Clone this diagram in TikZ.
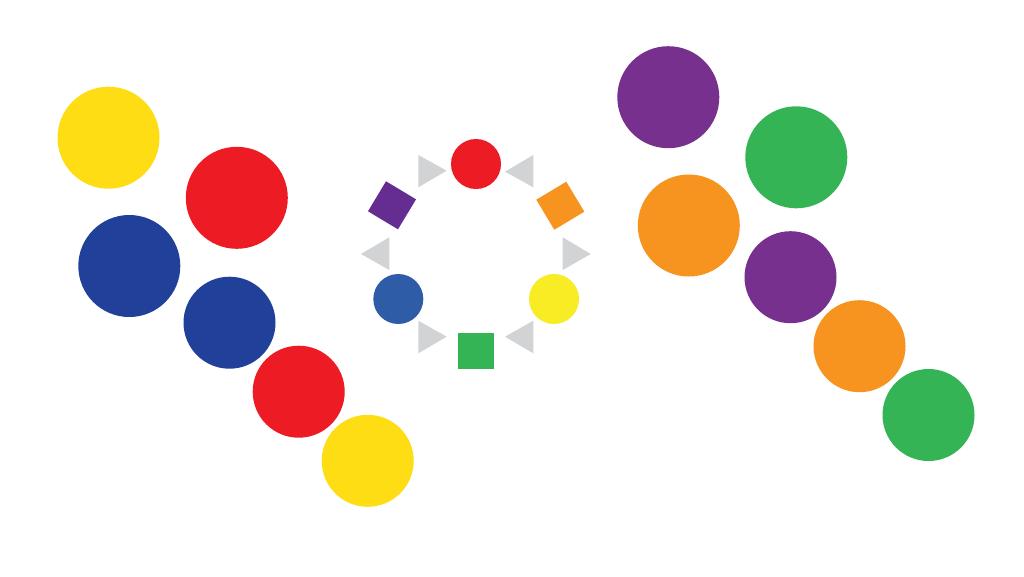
\documentclass[tikz,border=0pt]{standalone}
\begin{document}
\begin{tikzpicture}[x=1pt,y=-1pt,
  dot/.style={circle,inner sep=0pt,outer sep=0pt,draw=none},
  bigdot/.style={dot,minimum size=102pt},
  middot/.style={dot,minimum size=92pt},
  smalldot/.style={dot,minimum size=50pt},
  sqbox/.style={rectangle,inner sep=0pt,outer sep=0pt,draw=none,minimum size=35pt},
  tri/.style={fill=triGray}]
\definecolor{cYellow}{HTML}{FFDD15}
\definecolor{cRed}{HTML}{ED1C24}
\definecolor{cBlue}{HTML}{21409A}
\definecolor{cPurple}{HTML}{77308E}
\definecolor{cGreen}{HTML}{34B454}
\definecolor{cOrange}{HTML}{F7931F}
\definecolor{rYellow}{HTML}{F8EC24}
\definecolor{rBlue}{HTML}{2E5CA6}
\definecolor{rPurple}{HTML}{652D91}
\definecolor{triGray}{HTML}{D1D3D4}
\useasboundingbox[fill=white] (0,0) rectangle (1024,576);
% left group
\node[bigdot,fill=cYellow] (ly1) at (108.5,137.7) {};
\node[bigdot,fill=cRed] (lr1) at (236.8,197.8) {};
\node[bigdot,fill=cBlue] (lb1) at (129.3,266) {};
\node[middot,fill=cBlue] (lb2) at (229.5,322.7) {};
\node[middot,fill=cRed] (lr2) at (298.7,391.7) {};
\node[middot,fill=cYellow] (ly2) at (367.7,460.8) {};
% right group
\node[bigdot,fill=cPurple] (rp1) at (668.3,97.2) {};
\node[bigdot,fill=cGreen] (rg1) at (796.3,157.3) {};
\node[bigdot,fill=cOrange] (ro1) at (688.8,225.5) {};
\node[middot,fill=cPurple] (rp2) at (790.5,277.2) {};
\node[middot,fill=cOrange] (ro2) at (859.5,346.2) {};
\node[middot,fill=cGreen] (rg2) at (928.5,415) {};
% ring
\node[smalldot,fill=cRed] (cr) at (476,164) {};
\node[sqbox,fill=cOrange,rotate=31] (co) at (560.3,205.7) {};
\node[smalldot,fill=rYellow] (cy) at (554,299) {};
\node[sqbox,fill=cGreen,minimum size=36pt] (cg) at (476,351) {};
\node[smalldot,fill=rBlue] (cb) at (398.3,299) {};
\node[sqbox,fill=rPurple,rotate=-31] (cp) at (392,205.3) {};
% triangles
\fill[tri] (418.3,155) -- (446.7,170.7) -- (418.3,187.3) -- cycle;
\fill[tri] (533.3,155) -- (505,171.7) -- (533.3,187.3) -- cycle;
\fill[tri] (562.7,237.3) -- (590.7,254) -- (562.7,270) -- cycle;
\fill[tri] (389.3,237.3) -- (361,254) -- (389.3,270) -- cycle;
\fill[tri] (418.3,320.7) -- (446.7,336.7) -- (418.3,353.3) -- cycle;
\fill[tri] (533.3,320.7) -- (505,336.7) -- (533.3,353.3) -- cycle;
\end{tikzpicture}
\end{document}
